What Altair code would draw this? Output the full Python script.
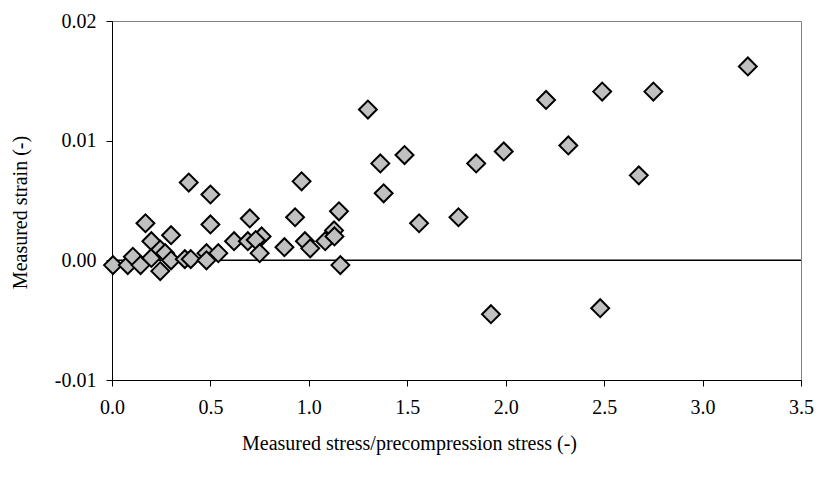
import altair as alt
import pandas as pd

stress_ratio = [0.005, 0.08, 0.106, 0.145, 0.17, 0.20, 0.20, 0.245, 0.27, 0.245,
                0.30, 0.30, 0.37, 0.40, 0.39, 0.50, 0.50, 0.48, 0.48, 0.54,
                0.62, 0.69, 0.70, 0.76, 0.73, 0.75, 0.876, 0.93, 0.963, 0.98,
                1.007, 1.083, 1.128, 1.13, 1.153, 1.16, 1.30, 1.363, 1.38, 1.486,
                1.56, 1.76, 1.85, 1.925, 1.99, 2.205, 2.318, 2.48, 2.49, 2.676,
                2.75, 3.23]
strain = [-0.0004, -0.0004, 0.0003, -0.0004, 0.0031, 0.0016, 0.0002, 0.0009, 0.0006, -0.0009,
          0.0021, 0.0000, 0.0001, 0.0001, 0.0065, 0.0055, 0.0030, 0.0006, 0.0000, 0.0006,
          0.0016, 0.0016, 0.0035, 0.0020, 0.0017, 0.0006, 0.0011, 0.0036, 0.0066, 0.0016,
          0.0010, 0.0016, 0.0025, 0.0020, 0.0041, -0.0004, 0.0126, 0.0081, 0.0056, 0.0088,
          0.0031, 0.0036, 0.0081, -0.0045, 0.0091, 0.0134, 0.0096, -0.0040, 0.0141, 0.0071,
          0.0141, 0.0162]

x_ticks = [0, 0.5, 1.0, 1.5, 2.0, 2.5, 3.0, 3.5]
y_ticks = [-0.01, 0.0, 0.01, 0.02]

df = pd.DataFrame({"x": stress_ratio, "y": strain})
zero = pd.DataFrame({"y": [0.0]})

FONT = "Liberation Serif"
FS = 20

common_axis = dict(grid=False, labelFont=FONT, titleFont=FONT,
                   labelFontSize=FS, titleFontSize=FS, labelColor="black",
                   titleColor="black", titleFontWeight="normal",
                   domainColor="black", domainWidth=1, tickColor="black",
                   tickWidth=1, tickSize=6, labelFlush=False, labelOverlap=False)

x_enc = alt.X("x:Q",
              scale=alt.Scale(domain=[0, 3.5], nice=False),
              axis=alt.Axis(values=x_ticks, format=".1f",
                            title="Measured stress/precompression stress (-)",
                            titleX=297, titleY=63, titleBaseline="middle",
                            titleAlign="center",
                            labelPadding=11, **common_axis))
y_enc = alt.Y("y:Q",
              scale=alt.Scale(domain=[-0.01, 0.02], nice=False, zero=False),
              axis=alt.Axis(values=y_ticks,
                            labelExpr="datum.value < 0 ? '-' + format(-datum.value, '.2f') : format(datum.value, '.2f')",
                            title="Measured strain (-)",
                            titleX=-92, titleY=191, titleAlign="center",
                            titleBaseline="middle",
                            labelPadding=10, **common_axis))

rule = alt.Chart(zero).mark_rule(color="black", strokeWidth=1.5).encode(
    y=alt.Y("y:Q", scale=alt.Scale(domain=[-0.01, 0.02], nice=False, zero=False))
)

points = alt.Chart(df).mark_point(
    shape="diamond", filled=True, fill="#c0c0c0", stroke="black",
    strokeWidth=2, size=320, opacity=1
).encode(x=x_enc, y=y_enc)

chart = alt.layer(rule, points).properties(
    width=689, height=359,
    autosize=alt.AutoSizeParams(type="none"),
    padding={"left": 104, "top": 13, "right": 13, "bottom": 96},
).configure_view(
    stroke="#808080", strokeWidth=1
)

chart.save("out.html", embed_options={"renderer": "svg", "actions": False})
